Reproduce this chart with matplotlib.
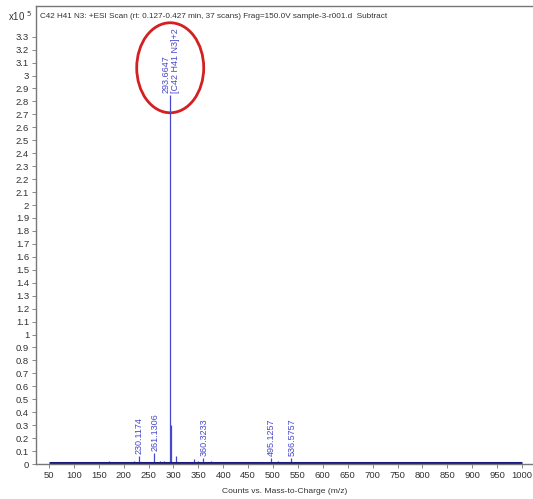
import numpy as np
import matplotlib.pyplot as plt
from matplotlib.patches import Ellipse

plt.rcParams['font.family'] = ['Liberation Sans', 'DejaVu Sans']

# Spectrum peaks (m/z, counts x10^5)
peak_mz = [170.2, 220.1, 230.1174, 261.1306, 272.0, 280.2, 293.6647, 294.17, 305.2,
           322.1, 340.3, 349.0, 360.3233, 375.2, 404.2, 452.3, 495.1257, 509.2,
           536.5757, 552.4, 571.3, 580.5, 592.4]
peak_int = [0.02, 0.025, 0.06, 0.085, 0.02, 0.025, 2.85, 0.30, 0.065,
            0.015, 0.035, 0.025, 0.045, 0.025, 0.012, 0.012, 0.045, 0.02,
            0.045, 0.012, 0.015, 0.012, 0.012]

# annotated peaks
label_mz = [230.1174, 261.1306, 293.6647, 360.3233, 495.1257, 536.5757]
label_int = [0.06, 0.085, 2.85, 0.045, 0.045, 0.045]
label_txt = ['230.1174', '261.1306', '293.6647\n[C42 H41 N3]+2', '360.3233',
             '495.1257', '536.5757']

x_ticks = list(range(50, 1001, 50))
y_ticks = [round(v * 0.1, 1) for v in range(0, 34)]

title = ('C42 H41 N3: +ESI Scan (rt: 0.127-0.427 min, 37 scans) '
         'Frag=150.0V sample-3-r001.d  Subtract')

peak_col = '#4848cc'
txt_col = '#333333'

fig = plt.figure(figsize=(5.33, 4.99), dpi=100)
ax = fig.add_axes([36 / 533, 35 / 499, 497 / 533, 458 / 499])

ax.vlines(peak_mz, 0, peak_int, color=peak_col, linewidth=0.9)
# noise floor along the baseline
ax.plot([50, 1000], [0.006, 0.006], color='#1a1a80', linewidth=2.2, solid_capstyle='butt')

for mz, h, t in zip(label_mz, label_int, label_txt):
    ax.text(mz + 1, h + 0.015, t, rotation=90, ha='center', va='bottom',
            fontsize=6.5, color=peak_col, linespacing=1.05,
            multialignment='left')

ax.add_patch(Ellipse((293.5, 3.06), 67 / 0.498, 90 / 129.5, fill=False,
                     edgecolor='#d42020', linewidth=2))

ax.set_xlim(24, 1022)
ax.set_ylim(0, 3.537)
ax.set_xticks(x_ticks)
ax.set_xticklabels([str(v) for v in x_ticks])
ax.set_yticks(y_ticks)
ax.set_yticklabels(['%g' % v for v in y_ticks])
ax.tick_params(labelsize=6.8, length=3, width=0.7, pad=2)
ax.tick_params(axis='x', colors='#888888', labelcolor=txt_col)
ax.tick_params(axis='y', colors='#888888', labelcolor=txt_col)

for s in ['left', 'top', 'bottom']:
    ax.spines[s].set_color('#777777')
    ax.spines[s].set_linewidth(1.0)
ax.spines['right'].set_visible(False)

ax.text(0.008, 0.985, title, transform=ax.transAxes, ha='left', va='top',
        fontsize=5.9, color=txt_col)
fig.text(8 / 533, 1 - 16 / 499, r'x10$^{\ 5}$', ha='left', va='center',
         fontsize=7, color=txt_col)

ax.set_xlabel('Counts vs. Mass-to-Charge (m/z)', fontsize=6.1, color=txt_col, labelpad=6)

fig.savefig('out.png', dpi=100)
